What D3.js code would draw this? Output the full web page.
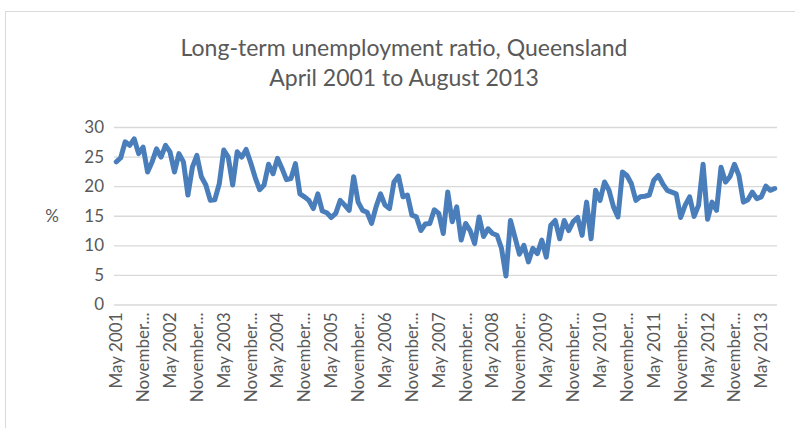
<!DOCTYPE html>
<html>
<head>
<meta charset="utf-8">
<script src="https://cdn.jsdelivr.net/npm/d3@7/dist/d3.min.js"></script>
<style>
  body { margin: 0; background: #ffffff; }
  svg { display: block; }
</style>
</head>
<body>
<svg id="chart" width="795" height="428"></svg>
<script>
// Chart text
const titleLines = ["Long-term unemployment ratio, Queensland", "April 2001 to August 2013"];
const yAxisTitle = "%";

// Monthly categories, May 2001 .. August 2013
const firstMonth = new Date(2001, 4, 1);
const lastMonthExclusive = new Date(2013, 8, 1);

// Long-term unemployment ratio (%), one value per month
const ratio = [
  24.1, 24.8, 27.5, 26.9, 28.0, 25.5, 26.6, 22.4, 24.1, 26.3,
  24.9, 26.9, 25.8, 22.4, 25.5, 24.1, 18.5, 23.2, 25.2, 21.6,
  20.2, 17.6, 17.7, 20.4, 26.1, 24.9, 20.2, 25.8, 24.9, 26.2,
  24.0, 21.5, 19.4, 20.2, 23.7, 22.1, 24.7, 23.0, 21.1, 21.3,
  23.8, 18.7, 18.2, 17.6, 16.2, 18.7, 15.8, 15.5, 14.7, 15.4,
  17.6, 16.8, 15.9, 21.6, 17.3, 15.9, 15.6, 13.7, 16.5, 18.7,
  16.8, 16.2, 20.7, 21.7, 18.2, 18.5, 15.1, 14.8, 12.5, 13.6,
  13.7, 16.0, 15.4, 12.0, 19.0, 14.0, 16.5, 10.9, 13.7, 12.5,
  10.3, 14.8, 11.5, 12.8, 12.0, 11.7,  9.5,  4.8, 14.2, 11.4,
   8.5, 10.0,  7.2,  9.5,  8.6, 10.9,  8.0, 13.4, 14.2, 11.1,
  14.2, 12.5, 14.0, 14.7, 11.7, 17.3, 11.1, 19.3, 17.6, 20.7,
  19.3, 16.5, 14.8, 22.4, 21.8, 20.4, 17.6, 18.2, 18.3, 18.5,
  21.0, 21.8, 20.4, 19.3, 19.0, 18.7, 14.7, 16.8, 18.2, 14.9,
  16.8, 23.7, 14.4, 17.3, 15.9, 23.2, 20.7, 21.6, 23.7, 21.8,
  17.3, 17.7, 19.0, 17.9, 18.2, 20.0, 19.3, 19.6
];

// Category-axis labels, shown every sixth month
const xTickLabels = [
  "May 2001", "November...", "May 2002", "November...", "May 2003", "November...",
  "May 2004", "November...", "May 2005", "November...", "May 2006", "November...",
  "May 2007", "November...", "May 2008", "November...", "May 2009", "November...",
  "May 2010", "November...", "May 2011", "November...", "May 2012", "November...",
  "May 2013"
];
const labelEvery = 6;

// Value-axis ticks
const yTicks = [0, 5, 10, 15, 20, 25, 30];

const months = d3.timeMonth.range(firstMonth, lastMonthExclusive);
const data = months.map((m, i) => ({ month: m, value: ratio[i] }));

const W = 795, H = 428;
const plot = { left: 114, right: 777, top: 127, bottom: 304.5 };
const textColor = "#595959";
const gridColor = "#d9d9d9";
const lineColor = "#4a7ebb";
const font = "Lato, 'Noto Sans', sans-serif";

const svg = d3.select("#chart").style("font-family", font);

// Chart frame
svg.append("rect")
  .attr("x", 5.5).attr("y", 11.5)
  .attr("width", W + 10).attr("height", H + 10)
  .attr("fill", "#ffffff")
  .attr("stroke", gridColor)
  .attr("stroke-width", 1);

const x = d3.scaleBand()
  .domain(months.map(m => +m))
  .range([plot.left, plot.right])
  .padding(0);

const y = d3.scaleLinear()
  .domain([d3.min(yTicks), d3.max(yTicks)])
  .range([plot.bottom, plot.top]);

// Value axis with horizontal gridlines
const yAxis = svg.append("g")
  .attr("transform", `translate(${plot.left},0)`)
  .call(d3.axisLeft(y)
    .tickValues(yTicks)
    .tickSize(-(plot.right - plot.left))
    .tickPadding(10)
    .tickFormat(d3.format("d")));
yAxis.select(".domain").remove();
yAxis.selectAll(".tick line")
  .attr("stroke", gridColor)
  .attr("stroke-width", 1.3);
yAxis.selectAll(".tick text")
  .attr("fill", textColor)
  .style("font-size", "17px")
  .style("font-family", font);

// Category axis with rotated labels
const labelMonths = months.filter((m, i) => i % labelEvery === 0);
const xAxis = svg.append("g")
  .attr("transform", `translate(0,${plot.bottom})`)
  .call(d3.axisBottom(x)
    .tickValues(labelMonths.map(m => +m))
    .tickSize(0)
    .tickFormat((d, i) => xTickLabels[i]));
xAxis.select(".domain").remove();
xAxis.selectAll(".tick text")
  .attr("fill", textColor)
  .style("font-size", "17px")
  .style("font-family", font)
  .attr("text-anchor", "end")
  .attr("transform", "rotate(-90)")
  .attr("x", -8)
  .attr("y", 0)
  .attr("dy", "0.35em");

// Axis title
svg.append("text")
  .attr("x", 52).attr("y", plot.top + (plot.bottom - plot.top) / 2)
  .attr("dy", "0.35em")
  .attr("text-anchor", "middle")
  .attr("fill", textColor)
  .style("font-size", "17px")
  .text(yAxisTitle);

// Series line
const line = d3.line()
  .x(d => x(+d.month) + x.bandwidth() / 2)
  .y(d => y(d.value));

svg.append("path")
  .datum(data)
  .attr("fill", "none")
  .attr("stroke", lineColor)
  .attr("stroke-width", 5)
  .attr("stroke-linejoin", "round")
  .attr("stroke-linecap", "round")
  .attr("d", line);

// Title
svg.append("text")
  .attr("x", 404).attr("y", 56)
  .attr("text-anchor", "middle")
  .attr("fill", textColor)
  .style("font-size", "23px")
  .selectAll("tspan")
  .data(titleLines)
  .join("tspan")
  .attr("x", 404)
  .attr("dy", (d, i) => i === 0 ? 0 : 30)
  .text(d => d);
</script>
</body>
</html>
